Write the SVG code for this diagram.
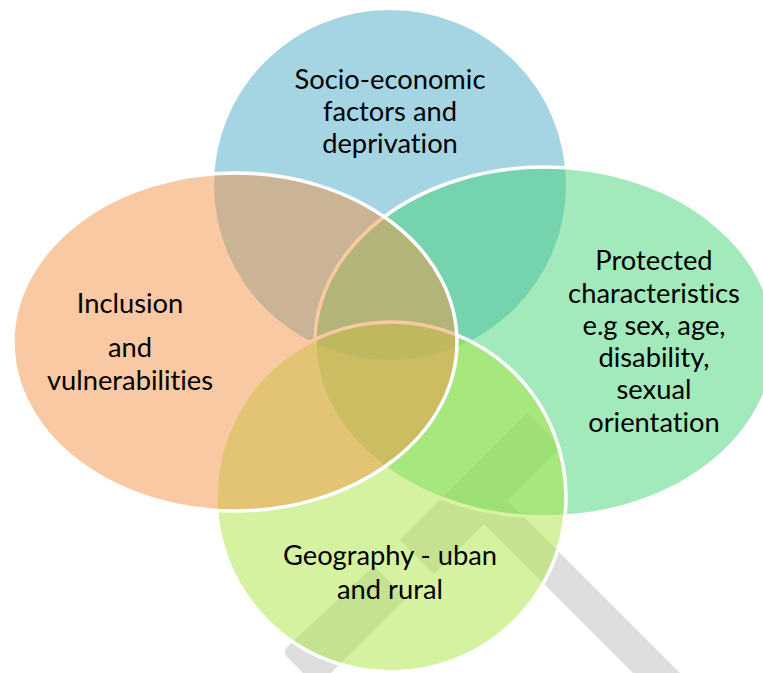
<svg xmlns="http://www.w3.org/2000/svg" width="763" height="673" viewBox="0 0 763 673">
<style>
.wm{fill:#DEDEDE;}
.c{stroke:#FFFFFF;stroke-width:3.5;fill-opacity:0.5;}
.t{font-family:Lato,"Noto Sans",sans-serif;font-size:27.3px;fill:#000000;text-anchor:middle;font-variant-ligatures:none;}
</style>
<rect width="763" height="673" fill="#FFFFFF"/>
<g id="watermark">
<polygon class="wm" points="527,413 561,447 434,574 400,540"/>
<path class="wm" d="M374,566 L406,598 L317,687 L288,658 Q282,652 287,647 Z"/>
<polygon class="wm" points="507.5,500.5 484,524 680,720 703.5,696.5"/>
</g>
<g id="node-socio">
<ellipse cx="390" cy="185" rx="176" ry="175" fill="#4BABC5" fill-opacity="0.5"/>
</g>
<g id="node-protected">
<ellipse class="c" cx="545" cy="342" rx="230" ry="175" fill="#45D377"/>
</g>
<g id="node-geography">
<ellipse class="c" cx="391" cy="497" rx="175" ry="175" fill="#A9E541"/>
</g>
<g id="node-inclusion">
<ellipse class="c" cx="235" cy="342" rx="222" ry="169" fill="#F19347"/>
</g>
<g id="labels">
<text class="t" x="390" y="89">Socio-economic</text>
<text class="t" x="390" y="121">factors and</text>
<text class="t" x="390" y="153">deprivation</text>
<text class="t" x="130" y="313">Inclusion</text>
<text class="t" x="130" y="357">and</text>
<text class="t" x="130" y="390">vulnerabilities</text>
<text class="t" x="654" y="270">Protected</text>
<text class="t" x="654" y="303">characteristics</text>
<text class="t" x="654" y="335">e.g sex, age,</text>
<text class="t" x="654" y="367">disability,</text>
<text class="t" x="654" y="399">sexual</text>
<text class="t" x="654" y="432">orientation</text>
<text class="t" x="390" y="565">Geography - uban</text>
<text class="t" x="390" y="599">and rural</text>
</g>
</svg>
